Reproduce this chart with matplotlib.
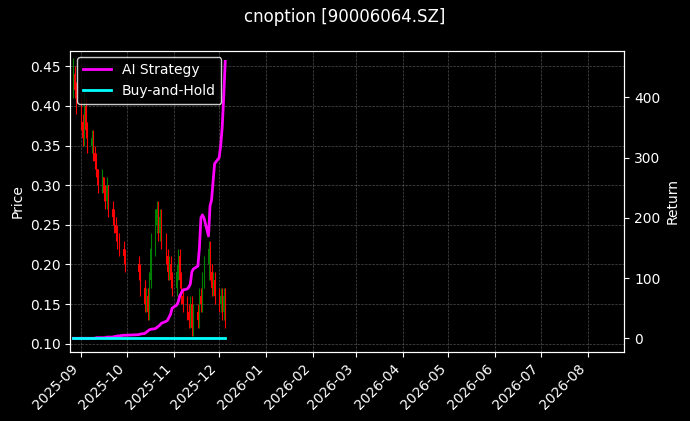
import matplotlib
matplotlib.use("Agg")
import matplotlib.pyplot as plt
import matplotlib.dates as mdates
import pandas as pd
import numpy as np

dates = [d for d in pd.bdate_range("2025-08-27", "2025-12-05") if not (pd.Timestamp("2025-10-01") <= d <= pd.Timestamp("2025-10-08"))]
close = [0.44,0.42,0.40,
         0.38,0.36,0.40,0.37,0.35,0.36,0.34,0.33,0.32,0.30,0.31,0.29,0.28,0.30,0.27,0.26,0.25,0.24,0.23,0.22,0.21,0.20,
         0.19,0.17,0.15,0.16,0.14,0.18,0.22,0.25,0.27,0.24,0.26,0.23,0.21,0.19,0.20,0.18,0.17,
         0.19,0.21,0.18,0.16,0.15,0.14,0.13,0.15,0.12,0.14,0.13,0.16,0.15,0.18,0.20,0.22,0.19,0.17,0.18,0.16,
         0.15,0.16,0.14,0.16,0.13]
opens = [0.42,0.44,0.42,
         0.40,0.38,0.36,0.40,0.37,0.35,0.36,0.34,0.33,0.32,0.30,0.31,0.29,0.28,0.30,0.27,0.26,0.25,0.24,0.23,0.22,0.21,
         0.20,0.19,0.17,0.15,0.16,0.14,0.18,0.22,0.25,0.27,0.24,0.26,0.23,0.21,0.19,0.20,0.18,
         0.17,0.19,0.21,0.18,0.16,0.15,0.14,0.13,0.15,0.12,0.14,0.13,0.16,0.15,0.18,0.20,0.22,0.19,0.17,0.18,
         0.16,0.15,0.16,0.14,0.16]
high = [0.46,0.45,0.43,
        0.41,0.39,0.42,0.41,0.38,0.37,0.37,0.35,0.34,0.32,0.32,0.31,0.30,0.31,0.30,0.28,0.27,0.26,0.25,0.24,0.23,0.22,
        0.21,0.20,0.18,0.17,0.17,0.19,0.24,0.27,0.28,0.28,0.27,0.27,0.24,0.22,0.21,0.21,0.19,
        0.20,0.22,0.22,0.19,0.17,0.16,0.15,0.16,0.16,0.15,0.15,0.17,0.17,0.19,0.21,0.23,0.23,0.20,0.19,0.19,
        0.17,0.17,0.17,0.17,0.17]
low = [0.41,0.41,0.39,
       0.37,0.35,0.35,0.36,0.34,0.34,0.33,0.32,0.31,0.29,0.29,0.28,0.27,0.27,0.26,0.25,0.24,0.23,0.22,0.21,0.20,0.19,
       0.18,0.16,0.14,0.14,0.13,0.13,0.17,0.21,0.24,0.23,0.23,0.22,0.20,0.18,0.18,0.17,0.16,
       0.16,0.18,0.17,0.15,0.14,0.13,0.12,0.12,0.11,0.11,0.12,0.12,0.14,0.14,0.17,0.18,0.18,0.16,0.16,0.15,
       0.14,0.14,0.13,0.13,0.12]
strategy = [0,0,0,
            0,0,0,0,0,0,0,0,1,1,1,1,1,2,2,2,3,3,4,4,5,5,
            6,7,8,10,12,14,15,16,18,20,22,25,28,30,35,40,50,
            55,60,70,75,80,82,85,90,110,115,120,150,200,205,200,170,220,230,260,290,
            300,320,350,400,460]
buyhold = [0]*len(dates)

fig, ax = plt.subplots(figsize=(6.9, 4.21), dpi=100)
fig.patch.set_facecolor("black")
ax.set_facecolor("black")
x = mdates.date2num(dates)
for xi, o, h, l, c in zip(x, opens, high, low, close):
    col = "green" if c >= o else "red"
    ax.vlines(xi, l, h, color=col, linewidth=0.8)
    ax.bar(xi, abs(c - o) if c != o else 0.002, bottom=min(o, c), width=0.6, color=col)
ax.set_ylim(0.09, 0.47)
ax.set_xlim(mdates.date2num(pd.Timestamp("2025-08-25")), mdates.date2num(pd.Timestamp("2026-08-25")))
ax.set_ylabel("Price", color="white")
ax.grid(True, color="gray", linestyle="--", linewidth=0.5, alpha=0.6)
ax.xaxis.set_major_locator(mdates.MonthLocator())
ax.xaxis.set_major_formatter(mdates.DateFormatter("%Y-%m"))
plt.setp(ax.get_xticklabels(), rotation=45, ha="right")

ax2 = ax.twinx()
l1, = ax2.plot(dates, strategy, color="magenta", linewidth=2, label="AI Strategy")
l2, = ax2.plot(dates, buyhold, color="cyan", linewidth=2, label="Buy-and-Hold")
ax2.set_ylim(-22, 478)
ax2.set_ylabel("Return", color="white")
for a in (ax, ax2):
    a.tick_params(colors="white")
    for s in a.spines.values():
        s.set_color("white")
leg = ax2.legend(handles=[l1, l2], loc="upper left", facecolor="black", edgecolor="white", labelcolor="white")
fig.suptitle("cnoption [90006064.SZ]", color="white")
plt.subplots_adjust(left=0.102, right=0.905, top=0.88, bottom=0.165)
fig.savefig("out.png", facecolor="black")
